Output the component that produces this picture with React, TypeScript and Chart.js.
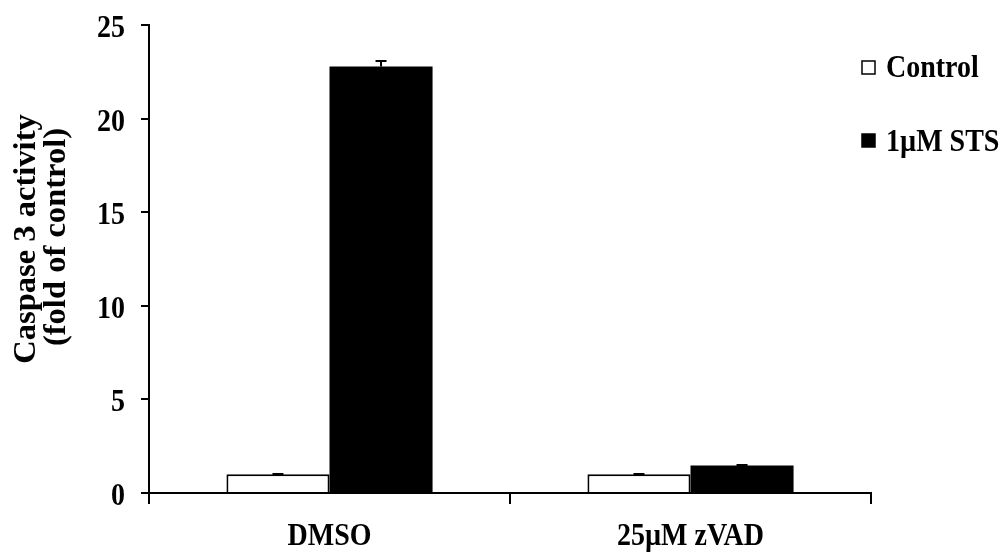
import React, { useEffect, useRef } from 'react';
import { Chart, registerables } from 'chart.js';

Chart.register(...registerables);

// Treatment groups along the x axis
const categories = ['DMSO', '25µM zVAD'];
// Series names shown in the legend
const seriesNames = ['Control', '1µM STS'];
// Caspase 3 activity (fold of control)
const controlValues = [1.0, 1.0];
const stsValues = [22.78, 1.47];
// Error bar half-heights (upper only)
const controlErrors = [0.02, 0.02];
const stsErrors = [0.3, 0.02];
// Y axis tick values
const yTicks = [0, 5, 10, 15, 20, 25];

const FONT = '"Liberation Serif", "Times New Roman", serif';

function drawText(
  ctx: CanvasRenderingContext2D,
  text: string,
  x: number,
  y: number,
  size: number,
  align: CanvasTextAlign,
  sy: number,
  rotate = false,
) {
  ctx.save();
  ctx.translate(x, y);
  ctx.scale(1, sy);
  if (rotate) ctx.rotate(-Math.PI / 2);
  ctx.font = `bold ${size}px ${FONT}`;
  ctx.textAlign = align;
  ctx.textBaseline = 'alphabetic';
  ctx.fillStyle = '#000';
  ctx.fillText(text, 0, 0);
  ctx.restore();
}

const errorBarPlugin = {
  id: 'errorBars',
  afterDatasetsDraw(chart: any) {
    const ctx = chart.ctx;
    const yScale = chart.scales.y;
    chart.data.datasets.forEach((ds: any, i: number) => {
      const meta = chart.getDatasetMeta(i);
      meta.data.forEach((bar: any, j: number) => {
        const v = ds.data[j];
        const top = yScale.getPixelForValue(v + ds.errors[j]);
        const base = yScale.getPixelForValue(v);
        ctx.save();
        ctx.strokeStyle = '#000';
        ctx.lineWidth = 2;
        ctx.beginPath();
        ctx.moveTo(bar.x, base);
        ctx.lineTo(bar.x, top);
        ctx.moveTo(bar.x - 5.5, top);
        ctx.lineTo(bar.x + 5.5, top);
        ctx.stroke();
        ctx.restore();
      });
    });
  },
};

const labelsPlugin = {
  id: 'labels',
  afterDraw(chart: any) {
    const ctx = chart.ctx;
    const yScale = chart.scales.y;
    const xScale = chart.scales.x;

    // y tick labels
    yScale.ticks.forEach((t: any) => {
      const py = yScale.getPixelForValue(t.value);
      drawText(ctx, String(t.value), 125, py + 12, 28, 'right', 1.15);
    });

    // category labels
    categories.forEach((c, i) => {
      const px = xScale.getPixelForValue(i);
      drawText(ctx, c, px, 545, 28, 'center', 1.1);
    });

    // y axis title, two lines
    drawText(ctx, 'Caspase 3 activity', 35, 239, 31, 'center', 1.05, true);
    drawText(ctx, '(fold of control)', 64.5, 237, 31, 'center', 1.05, true);

    // legend
    const legendRows = [
      { box: 61, base: 77 },
      { box: 134, base: 151 },
    ];
    chart.data.datasets.forEach((ds: any, i: number) => {
      const row = legendRows[i];
      ctx.save();
      ctx.fillStyle = ds.backgroundColor;
      ctx.fillRect(862, row.box, 13, 13);
      ctx.strokeStyle = '#000';
      ctx.lineWidth = 1.5;
      ctx.strokeRect(862, row.box, 13, 13);
      ctx.restore();
      drawText(ctx, ds.label, 886, row.base, 28, 'left', 1.12);
    });
  },
};

export default function App() {
  const canvasRef = useRef<HTMLCanvasElement | null>(null);

  useEffect(() => {
    const canvas = canvasRef.current;
    if (!canvas) return;
    const chart = new Chart(canvas, {
      type: 'bar',
      data: {
        labels: categories,
        datasets: [
          {
            label: seriesNames[0],
            data: controlValues,
            errors: controlErrors,
            backgroundColor: '#ffffff',
            borderColor: '#000000',
            borderWidth: 2,
            barPercentage: 1,
            categoryPercentage: 0.571,
          } as any,
          {
            label: seriesNames[1],
            data: stsValues,
            errors: stsErrors,
            backgroundColor: '#000000',
            borderColor: '#000000',
            borderWidth: 0,
            barPercentage: 1,
            categoryPercentage: 0.571,
          } as any,
        ],
      },
      options: {
        responsive: false,
        animation: false,
        layout: { padding: { left: 141, right: 134, top: 25, bottom: 49 } },
        plugins: {
          legend: { display: false },
          tooltip: { enabled: false },
        },
        scales: {
          x: {
            offset: true,
            grid: {
              display: true,
              drawOnChartArea: false,
              drawTicks: true,
              tickLength: 11,
              color: '#000',
              lineWidth: 2,
              offset: true,
            },
            border: { display: true, color: '#000', width: 2 },
            ticks: { display: false },
          },
          y: {
            min: yTicks[0],
            max: yTicks[yTicks.length - 1],
            ticks: { display: false, stepSize: yTicks[1] - yTicks[0] },
            grid: {
              display: true,
              drawOnChartArea: false,
              drawTicks: true,
              tickLength: 8,
              color: '#000',
              lineWidth: 2,
            },
            border: { display: true, color: '#000', width: 2 },
          },
        },
      },
      plugins: [errorBarPlugin, labelsPlugin],
    });
    return () => chart.destroy();
  }, []);

  return (
    <div style={{ position: 'absolute', left: 0, top: 0, width: 1005, height: 553, background: '#fff' }}>
      <canvas ref={canvasRef} width={1005} height={553} />
    </div>
  );
}
